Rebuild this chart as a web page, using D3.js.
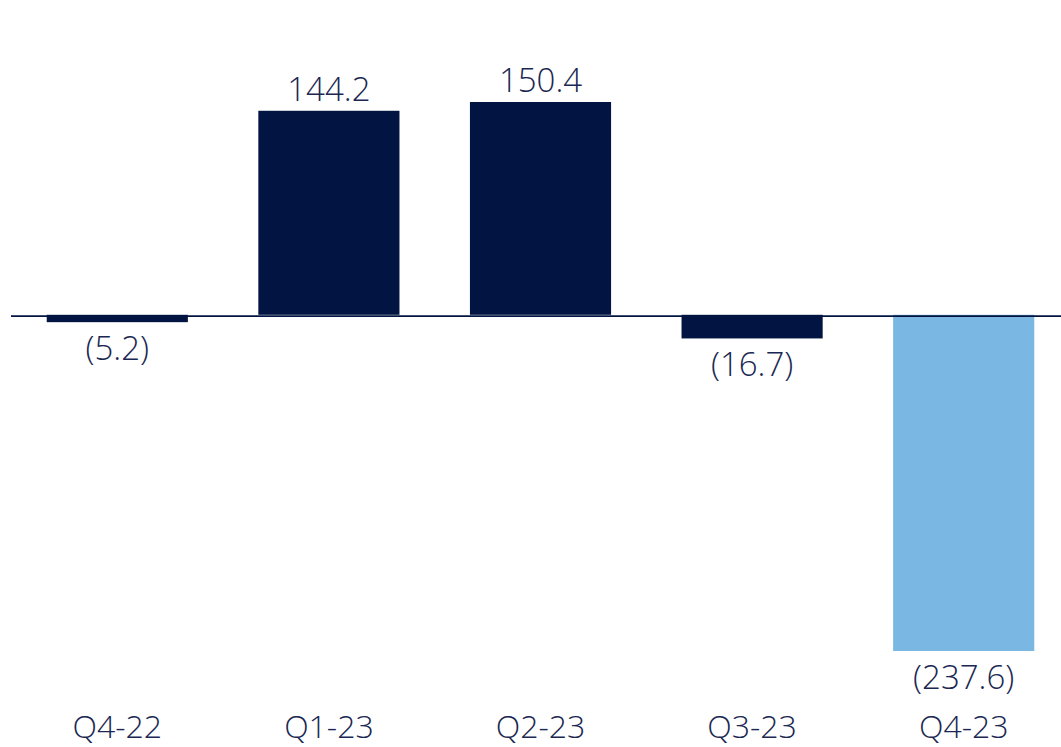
<!DOCTYPE html>
<html>
<head>
<meta charset="utf-8">
<script src="https://cdn.jsdelivr.net/npm/d3@7"></script>
<style>
  html, body { margin: 0; padding: 0; background: #ffffff; }
  svg text { font-family: "Open Sans", "Segoe UI", sans-serif; font-weight: 300; fill: #1a2752; }
</style>
</head>
<body>
<svg id="chart" width="1061" height="747"></svg>
<script>
const quarters = ["Q4-22", "Q1-23", "Q2-23", "Q3-23", "Q4-23"];
const values = [-5.2, 144.2, 150.4, -16.7, -237.6];
const highlight = [false, false, false, false, true];

const svg = d3.select("#chart");
const width = 1061;

const x = d3.scaleBand()
  .domain(quarters)
  .range([11.5, 1069.5])
  .paddingInner(0.333)
  .paddingOuter(0.1665);

const y = d3.scaleLinear()
  .domain([-237.6, 150.4])
  .range([651, 102]);

const fmt = v => v < 0 ? "(" + Math.abs(v).toFixed(1) + ")" : v.toFixed(1);

const data = quarters.map((q, i) => ({ q, v: values[i], hi: highlight[i] }));

svg.append("g").selectAll("rect")
  .data(data)
  .join("rect")
  .attr("x", d => x(d.q))
  .attr("width", x.bandwidth())
  .attr("y", d => y(Math.max(0, d.v)))
  .attr("height", d => Math.abs(y(d.v) - y(0)))
  .attr("fill", d => d.hi ? "#7ab8e3" : "#021441");

// zero line, sitting just under the bar bases
svg.append("line")
  .attr("x1", 11).attr("x2", width)
  .attr("y1", y(0) + 1.3).attr("y2", y(0) + 1.3)
  .attr("stroke", "#021441")
  .attr("stroke-width", 1.8);

// value labels
svg.append("g").selectAll("text")
  .data(data)
  .join("text")
  .attr("x", d => x(d.q) + x.bandwidth() / 2)
  .attr("y", d => d.v >= 0 ? y(d.v) - 10 : y(d.v) + 38)
  .attr("text-anchor", "middle")
  .attr("font-size", 33)
  .text(d => fmt(d.v));

// category axis
const xAxis = d3.axisBottom(x).tickSize(0).tickPadding(0);
const gx = svg.append("g")
  .attr("transform", "translate(0,738)")
  .call(xAxis);
gx.select(".domain").remove();
gx.selectAll("text")
  .attr("font-size", 32)
  .attr("font-family", null)
  .attr("fill", null)
  .attr("y", 0)
  .attr("dy", 0);
</script>
</body>
</html>
